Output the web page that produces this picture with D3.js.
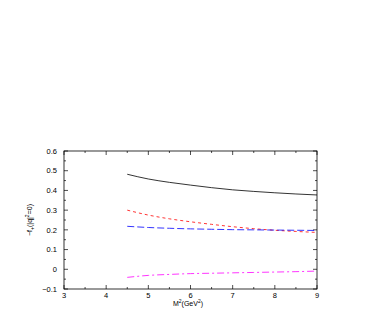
<!DOCTYPE html>
<html>
<head>
<meta charset="utf-8">
<script src="https://cdn.jsdelivr.net/npm/d3@7"></script>
<style>
  body { margin: 0; background: #fff; }
  text { font-family: "Liberation Sans", Arial, sans-serif; }
</style>
</head>
<body>
<svg id="chart" width="382" height="327"></svg>
<script>
// M^2 sample points (GeV^2)
const massSq = [4.5, 5, 5.5, 6, 6.5, 7, 7.5, 8, 8.5, 9];
// curves
const solidVals = [0.482, 0.458, 0.441, 0.427, 0.414, 0.403, 0.395, 0.388, 0.382, 0.377];
const dashVals = [0.300, 0.275, 0.256, 0.241, 0.228, 0.216, 0.206, 0.198, 0.192, 0.187];
const longDashVals = [0.218, 0.212, 0.208, 0.205, 0.203, 0.201, 0.200, 0.199, 0.198, 0.197];
const dashDotVals = [-0.041, -0.031, -0.026, -0.022, -0.020, -0.018, -0.016, -0.014, -0.012, -0.009];
const xTicks = [3, 4, 5, 6, 7, 8, 9];
const yTicks = [-0.1, 0, 0.1, 0.2, 0.3, 0.4, 0.5, 0.6];

const series = [
  { vals: solidVals, color: "#000", dash: null },
  { vals: dashVals, color: "#f00", dash: "3,3" },
  { vals: longDashVals, color: "#00f", dash: "7,3" },
  { vals: dashDotVals, color: "#f0f", dash: "7,3,2,3" }
];

let svg = d3.select("#chart");
let x = d3.scaleLinear().domain([3, 9]).range([64, 317]);
let y = d3.scaleLinear().domain([-0.1, 0.6]).range([289, 151]);

// frame
svg.append("rect")
  .attr("x", x(3)).attr("y", y(0.6))
  .attr("width", x(9) - x(3)).attr("height", y(-0.1) - y(0.6))
  .attr("fill", "none").attr("stroke", "#000").attr("stroke-width", 0.8);

// ticks on all four sides, pointing in
let xMinor = d3.range(3, 9.01, 0.5);
let yMinor = d3.range(-0.1, 0.601, 0.05);
let tickG = svg.append("g").attr("stroke", "#000").attr("stroke-width", 0.7);
xMinor.forEach((v) => {
  let len = Math.abs(v - Math.round(v)) < 1e-6 ? 4 : 2;
  tickG.append("line").attr("x1", x(v)).attr("x2", x(v)).attr("y1", y(-0.1)).attr("y2", y(-0.1) - len);
  tickG.append("line").attr("x1", x(v)).attr("x2", x(v)).attr("y1", y(0.6)).attr("y2", y(0.6) + len);
});
yMinor.forEach((v, i) => {
  let len = i % 2 === 0 ? 4 : 2;
  tickG.append("line").attr("y1", y(v)).attr("y2", y(v)).attr("x1", x(3)).attr("x2", x(3) + len);
  tickG.append("line").attr("y1", y(v)).attr("y2", y(v)).attr("x1", x(9)).attr("x2", x(9) - len);
});

// tick labels
svg.append("g").selectAll("text")
  .data(xTicks).enter().append("text")
  .attr("x", (d) => x(d)).attr("y", y(-0.1) + 8.5)
  .attr("text-anchor", "middle").attr("font-size", 7.5)
  .text((d) => d);
svg.append("g").selectAll("text")
  .data(yTicks).enter().append("text")
  .attr("x", x(3) - 7).attr("y", (d) => y(d) + 2.7)
  .attr("text-anchor", "end").attr("font-size", 7.5)
  .text((d) => (d < 0 ? "\u2212" + Math.abs(d) : d));

// axis titles
let xt = svg.append("text")
  .attr("x", 188).attr("y", 306)
  .attr("text-anchor", "middle").attr("font-size", 7);
xt.append("tspan").text("M");
xt.append("tspan").attr("dy", -3).attr("font-size", 5).text("2");
xt.append("tspan").attr("dy", 3).text("(GeV");
xt.append("tspan").attr("dy", -3).attr("font-size", 5).text("2");
xt.append("tspan").attr("dy", 3).text(")");

let yt = svg.append("text")
  .attr("transform", "translate(32,220) rotate(-90)")
  .attr("text-anchor", "middle").attr("font-size", 7);
yt.append("tspan").text("\u2212f");
yt.append("tspan").attr("dy", 2).attr("font-size", 5).text("+");
yt.append("tspan").attr("dy", -2).text("(|q|");
yt.append("tspan").attr("dy", -3).attr("font-size", 5).text("2");
yt.append("tspan").attr("dy", 3).text("=0)");

// curves
let line = d3.line()
  .x((d, i) => x(massSq[i]))
  .y((d) => y(d))
  .curve(d3.curveMonotoneX);
svg.append("g").selectAll("path")
  .data(series).enter().append("path")
  .attr("d", (d) => line(d.vals))
  .attr("fill", "none")
  .attr("stroke", (d) => d.color)
  .attr("stroke-width", 0.8)
  .attr("stroke-dasharray", (d) => d.dash);
</script>
</body>
</html>
